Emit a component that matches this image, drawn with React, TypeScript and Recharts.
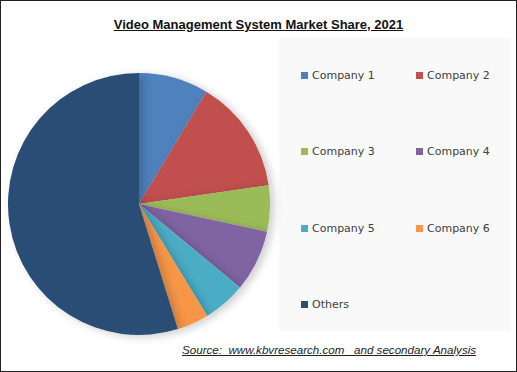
import { Cell, Pie, PieChart } from 'recharts';

const companies = ["Company 1", "Company 2", "Company 3", "Company 4", "Company 5", "Company 6", "Others"];
const shares = [8.6, 14.1, 5.7, 7.6, 5.3, 3.9, 54.8];
const colors = ["#4f81bd", "#c0504d", "#9bbb59", "#8064a2", "#4bacc6", "#f79646", "#2c4d75"];

const data = companies.map((name, i) => ({ name, value: shares[i] }));

function LegendBox() {
  return (
    <div style={{ position: 'absolute', left: 300, top: 68, width: 230, height: 260 }}>
      {companies.map((name, i) => (
        <div
          key={name}
          style={{
            position: 'absolute',
            left: (i % 2) * 115,
            top: Math.floor(i / 2) * 76.3,
            display: 'flex',
            alignItems: 'center',
            fontFamily: 'DejaVu Sans, Verdana, sans-serif',
            fontSize: 11,
            color: '#404040',
            whiteSpace: 'nowrap',
          }}
        >
          <span style={{ display: 'inline-block', width: 7, height: 7, background: colors[i], marginRight: 4 }} />
          {name}
        </div>
      ))}
    </div>
  );
}

export default function App() {
  return (
    <div
      style={{
        position: 'absolute',
        left: 0,
        top: 0,
        width: 515,
        height: 370,
        border: '1px solid #222',
        background: '#fff',
        overflow: 'hidden',
      }}
    >
      {/* faint legend panel */}
      <div style={{ position: 'absolute', left: 278, top: 37, width: 232, height: 293, background: '#f9f9f9' }} />
      <div
        style={{
          position: 'absolute',
          left: 0,
          width: 515,
          top: 16,
          textAlign: 'center',
          fontFamily: 'Liberation Sans, Arial, sans-serif',
          fontWeight: 'bold',
          fontSize: 13,
          color: '#111',
          textDecoration: 'underline',
        }}
      >
        Video Management System Market Share, 2021
      </div>
      <PieChart
        width={515}
        height={370}
        margin={{ top: 0, right: 0, bottom: 0, left: 0 }}
        style={{ position: 'absolute', left: 0, top: 0 }}
      >
        <defs>
          <filter id="pieShadow" x="-20%" y="-20%" width="140%" height="140%">
            <feDropShadow dx="4" dy="2" stdDeviation="4" floodColor="#000" floodOpacity="0.2" />
          </filter>
        </defs>
        <Pie
          data={data}
          dataKey="value"
          nameKey="name"
          cx={138}
          cy={203}
          outerRadius={131}
          startAngle={90}
          endAngle={-270}
          stroke="none"
          isAnimationActive={false}
          style={{ filter: 'url(#pieShadow)' }}
        >
          {data.map((d, i) => (
            <Cell key={d.name} fill={colors[i]} />
          ))}
        </Pie>
      </PieChart>
      <LegendBox />
      <div
        style={{
          position: 'absolute',
          left: 181,
          top: 342,
          fontFamily: 'Liberation Sans, Arial, sans-serif',
          fontStyle: 'italic',
          fontSize: 11.6,
          color: '#222',
          textDecoration: 'underline',
          whiteSpace: 'pre',
        }}
      >
        {"Source:  www.kbvresearch.com   and secondary Analysis"}
      </div>
    </div>
  );
}
